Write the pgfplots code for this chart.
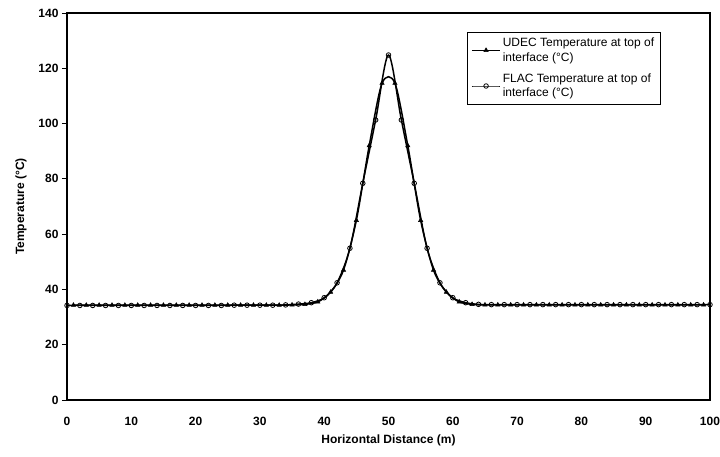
\documentclass[border=0pt]{standalone}
\usepackage{pgfplots}
\pgfplotsset{compat=1.18}
\usepackage{fontspec}
\setmainfont{Liberation Sans}
\begin{document}
\begin{tikzpicture}
\useasboundingbox (-67pt,-56pt) rectangle (653pt,400pt);
\begin{axis}[
  scale only axis, width=643pt, height=387pt,
  xmin=0, xmax=100, ymin=0, ymax=140,
  xtick={0,10,...,100}, ytick={0,20,...,140},
  tick pos=left, tick align=outside,
  major tick length=5pt,
  x tick style={draw=none},
  axis line style={line width=1.3pt},
  every tick/.style={black, line width=0.8pt},
  ticklabel style={font=\bfseries\fontsize{12}{14}\selectfont},
  xticklabel style={yshift=-9pt},
  /pgf/number format/assume math mode=true,
  xlabel={\bfseries Horizontal Distance (m)},
  ylabel={\bfseries Temperature (°C)},
  label style={font=\bfseries\fontsize{12}{14}\selectfont},
  xlabel style={yshift=-2pt},
  ylabel style={yshift=5pt},
  legend style={at={(0.622,0.952)}, anchor=north west, font=\fontsize{12}{14.5}\selectfont,
    draw=black, line width=0.8pt, cells={align=left, anchor=west}, inner sep=4pt, row sep=7pt},
  legend cell align=left,
  legend image code/.code={\draw[mark repeat=2,mark phase=2, line width=1pt] plot coordinates {(0cm,0cm)(0.5cm,0cm)(1.0cm,0cm)};},
]
\addplot[black, line width=1.5pt, smooth, mark=triangle*, mark size=2.5pt, mark options={fill=black, line width=0.5pt}] coordinates {
(1,34.3)(3,34.3)(5,34.3)(7,34.3)(9,34.3)(11,34.3)(13,34.3)(15,34.3)(17,34.3)(19,34.3)
(21,34.3)(23,34.3)(25,34.3)(27,34.3)(29,34.3)(31,34.3)(33,34.3)(35,34.4)(37,34.6)(39,35.5)
(41,39.0)(43,47.0)(45,65.0)(47,92.0)(49,114.6)(51,114.6)(53,92.0)(55,65.0)(57,47.0)(59,39.0)
(61,35.5)(63,34.6)(65,34.4)(67,34.4)(69,34.4)(71,34.4)(73,34.4)(75,34.4)(77,34.4)(79,34.4)
(81,34.4)(83,34.4)(85,34.4)(87,34.4)(89,34.4)(91,34.4)(93,34.4)(95,34.4)(97,34.4)(99,34.4)
};
\addlegendentry{UDEC Temperature at top of\\interface (°C)}
\addplot[black, line width=1.5pt, smooth, mark=o, mark size=2.3pt, mark options={fill=white, line width=0.8pt}] coordinates {
(0,34.2)(2,34.2)(4,34.2)(6,34.2)(8,34.2)(10,34.2)(12,34.2)(14,34.2)(16,34.2)(18,34.2)
(20,34.2)(22,34.2)(24,34.2)(26,34.3)(28,34.3)(30,34.3)(32,34.3)(34,34.4)(36,34.7)(38,35.2)
(40,37.0)(42,42.4)(44,54.9)(46,78.4)(48,101.3)(50,124.8)(52,101.3)(54,78.4)(56,54.9)(58,42.4)
(60,37.0)(62,35.2)(64,34.6)(66,34.5)(68,34.5)(70,34.5)(72,34.5)(74,34.5)(76,34.5)(78,34.5)
(80,34.5)(82,34.5)(84,34.5)(86,34.5)(88,34.5)(90,34.5)(92,34.5)(94,34.5)(96,34.5)(98,34.5)(100,34.5)
};
\addlegendentry{FLAC Temperature at top of\\interface (°C)}
\end{axis}
\end{tikzpicture}
\end{document}
